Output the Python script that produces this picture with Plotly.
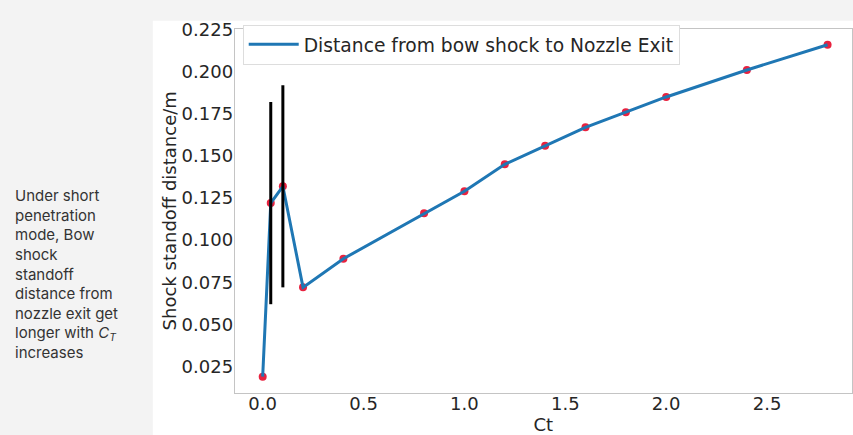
import plotly.graph_objects as go

W, H = 853, 435

ct = [0.0, 0.04, 0.1, 0.2, 0.4, 0.8, 1.0, 1.2, 1.4, 1.6, 1.8, 2.0, 2.4, 2.8]
dist = [0.019, 0.122, 0.132, 0.072, 0.089, 0.116, 0.129, 0.145, 0.156, 0.167, 0.176, 0.185, 0.201, 0.216]
err_ct = [0.04, 0.1]
err_val = [0.122, 0.132]
err_half = [0.06, 0.06]

side_lines = ["Under short", "penetration", "mode, Bow", "shock", "standoff",
              "distance from", "nozzle exit get", "longer with <i>C</i><sub><i>T</i></sub>", "increases"]

fig = go.Figure()

# red markers under line
fig.add_trace(go.Scatter(x=ct, y=dist, mode="markers",
                         marker=dict(color="#e8223f", size=8),
                         showlegend=False, hoverinfo="skip"))
fig.add_trace(go.Scatter(x=ct, y=dist, mode="lines",
                         line=dict(color="#1f77b4", width=3),
                         name="Distance from bow shock to Nozzle Exit"))
fig.add_trace(go.Scatter(x=err_ct, y=err_val, mode="markers",
                         marker=dict(size=1, color="rgba(0,0,0,0)"),
                         error_y=dict(type="data", array=err_half, visible=True,
                                      color="black", thickness=3, width=0),
                         showlegend=False, hoverinfo="skip"))

fig.add_shape(type="rect", xref="paper", yref="paper",
              x0=153 / W, x1=1.01, y0=-0.01, y1=1 - 11 / H,
              fillcolor="white", line=dict(width=0), layer="below")

tick_font = dict(family="DejaVu Sans", size=18, color="#262626")

fig.update_layout(
    width=W, height=H,
    margin=dict(l=0, r=0, t=0, b=0),
    paper_bgcolor="#f3f3f3",
    plot_bgcolor="white",
    font=dict(family="DejaVu Sans", color="#262626"),
    xaxis=dict(domain=[235 / W, 1], range=[-0.1386, 2.921],
               tickvals=[0, 0.5, 1.0, 1.5, 2.0, 2.5],
               ticktext=["0.0", "0.5", "1.0", "1.5", "2.0", "2.5"],
               tickfont=tick_font, showgrid=False, zeroline=False,
               showline=True, linecolor="#c4c4c4", linewidth=1, mirror=True,
               ticks="", ticklabelstandoff=-6,
               title=dict(text="Ct", font=dict(family="DejaVu Sans", size=18, color="#262626"), standoff=3)),
    yaxis=dict(domain=[1 - 392 / H, 1 - 19 / H], range=[0.0093, 0.2256],
               tickvals=[0.025, 0.05, 0.075, 0.1, 0.125, 0.15, 0.175, 0.2, 0.225],
               ticktext=["0.025", "0.050", "0.075", "0.100", "0.125", "0.150", "0.175", "0.200", "0.225"],
               tickfont=tick_font, showgrid=False, zeroline=False,
               showline=True, linecolor="#c4c4c4", linewidth=1, mirror=True,
               ticks="", ticklabelstandoff=-3,
               title=dict(text="Shock standoff distance/m", font=dict(family="DejaVu Sans", size=18, color="#262626"), standoff=0)),
    legend=dict(x=243 / W, y=1 - 15 / H, xanchor="left", yanchor="top",
                bgcolor="white", bordercolor="#dddddd", borderwidth=1,
                itemwidth=50,
                font=dict(family="DejaVu Sans", size=18.7, color="#262626")),
)

for i, t in enumerate(side_lines):
    fig.add_annotation(text=t, xref="paper", yref="paper",
                       x=13 / W, y=1 - (190 + 20.1 * i) / H,
                       xanchor="left", yanchor="middle", showarrow=False,
                       font=dict(family="Inter", size=15, color="#333333"))

fig.write_html("out.html")
